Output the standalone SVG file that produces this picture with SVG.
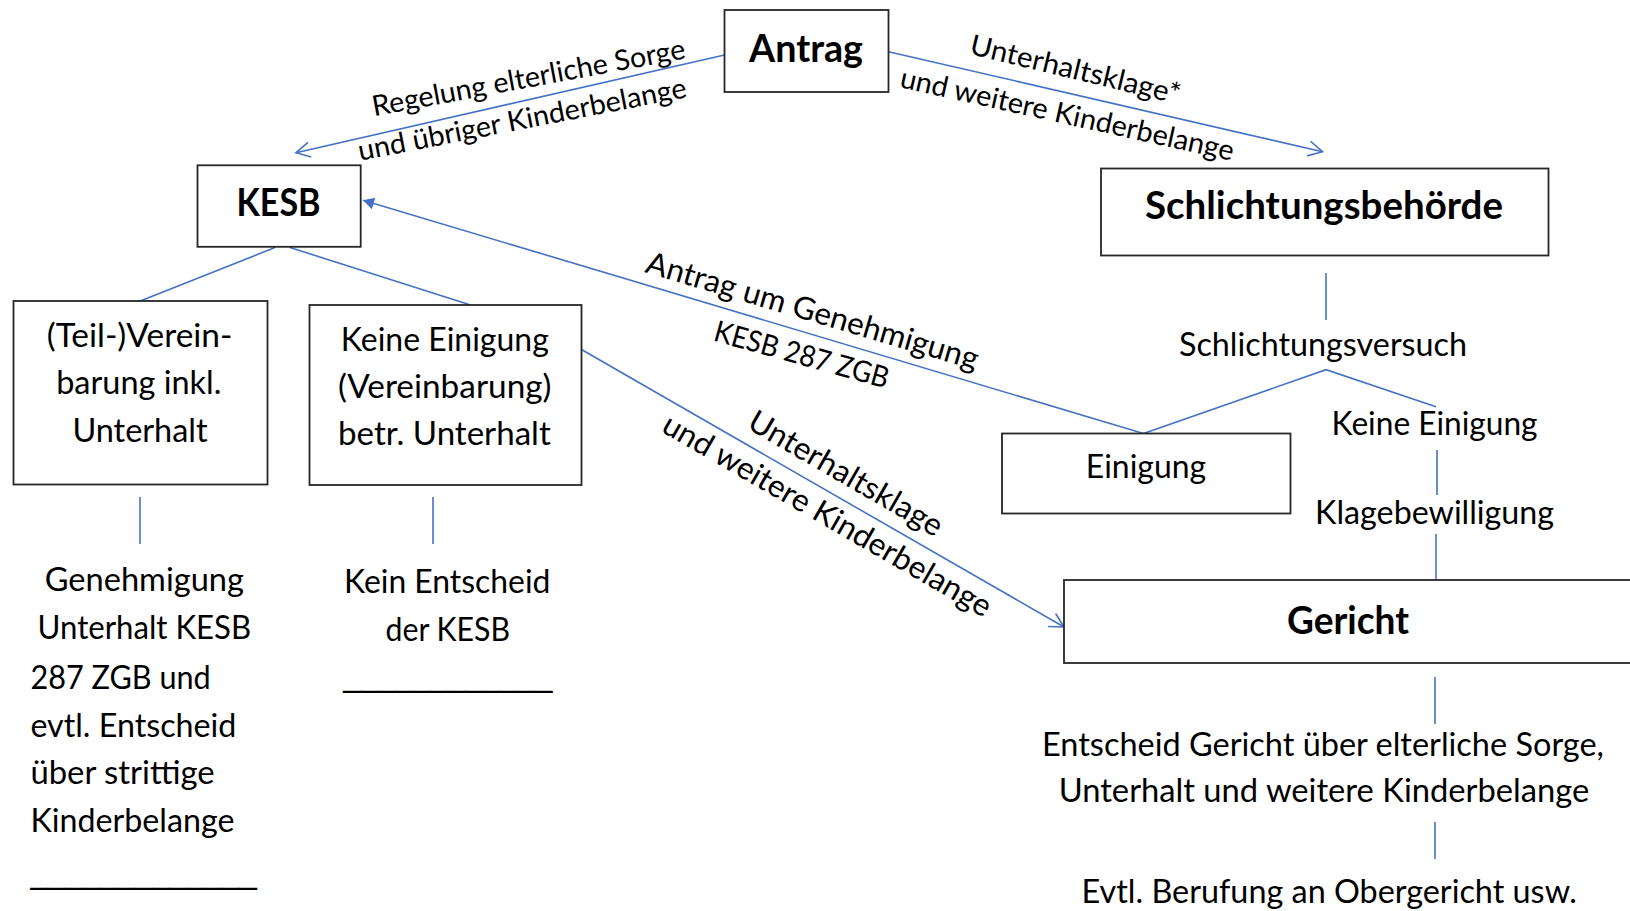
<svg xmlns="http://www.w3.org/2000/svg" width="1630" height="911" viewBox="0 0 1630 911">
<style>
.box{fill:#fff;stroke:#262626;stroke-width:1.8}
.t{font-family:Lato,"Liberation Sans",sans-serif;font-size:32px;fill:#000}
.b{font-family:Lato,"Liberation Sans",sans-serif;font-weight:bold;font-size:37.5px;fill:#000}
.u{font-family:"Liberation Sans",Arial,sans-serif;font-size:36px;fill:#000}
.lbl{font-size:28.5px}
.lbl2{font-size:31px}
.c{stroke:#4472C4;stroke-width:1.6;fill:none}
</style>
<defs>
<marker id="open" viewBox="-17 -10 19 20" refX="0" refY="0" markerWidth="19" markerHeight="20" markerUnits="userSpaceOnUse" orient="auto">
<path d="M-14,-7.5 L0,0 L-14,7.5" fill="none" stroke="#4472C4" stroke-width="1.6"/>
</marker>
<marker id="filled" viewBox="-13 -8 14 16" refX="0" refY="0" markerWidth="14" markerHeight="16" markerUnits="userSpaceOnUse" orient="auto">
<path d="M-11,-6 L0,0 L-11,6 Z" fill="#4472C4"/>
</marker>
</defs>
<rect x="0" y="0" width="1630" height="911" fill="#fff"/>

<g id="connectors">
<line class="c" x1="724.5" y1="55" x2="296" y2="152.7" marker-end="url(#open)"/>
<line class="c" x1="888.5" y1="51.7" x2="1322.5" y2="151.7" marker-end="url(#open)"/>
<line class="c" x1="1143.5" y1="433.5" x2="363" y2="200.3" marker-end="url(#filled)"/>
<line class="c" x1="275" y1="247.5" x2="139" y2="301.5"/>
<line class="c" x1="290" y1="247.5" x2="470.5" y2="305"/>
<line class="c" x1="581.5" y1="349.5" x2="1064" y2="627" marker-end="url(#open)"/>
<line class="c" x1="140" y1="497" x2="140" y2="544"/>
<line class="c" x1="433" y1="497" x2="433" y2="544"/>
<line class="c" x1="1326" y1="273" x2="1326" y2="320"/>
<polyline class="c" points="1143.5,433.5 1326,369.7 1436,406.7"/>
<line class="c" x1="1437" y1="450" x2="1437" y2="495"/>
<line class="c" x1="1436" y1="534" x2="1436" y2="580"/>
<line class="c" x1="1435" y1="677" x2="1435" y2="724"/>
<line class="c" x1="1435" y1="822" x2="1435" y2="859"/>
<g id="connector-labels">
<text class="t lbl" transform="translate(529,80) rotate(-10.5)" x="0" y="7.4" text-anchor="middle" textLength="318" lengthAdjust="spacingAndGlyphs">Regelung elterliche Sorge</text>
<text class="t lbl" transform="translate(522.5,121.7) rotate(-11)" x="0" y="7.4" text-anchor="middle" textLength="334" lengthAdjust="spacingAndGlyphs">und übriger Kinderbelange</text>
<text class="t lbl" transform="translate(1075,71.7) rotate(13.5)" x="0" y="7.4" text-anchor="middle" textLength="215.5" lengthAdjust="spacingAndGlyphs">Unterhaltsklage*</text>
<text class="t lbl" transform="translate(1066.7,116.7) rotate(12.5)" x="0" y="7.4" text-anchor="middle" textLength="341" lengthAdjust="spacingAndGlyphs">und weitere Kinderbelange</text>
<text class="t lbl2" transform="translate(811.7,313.3) rotate(16.5)" x="0" y="8" text-anchor="middle" textLength="345" lengthAdjust="spacingAndGlyphs">Antrag um Genehmigung</text>
<text class="t" style="font-size:29.5px" transform="translate(801.7,354.2) rotate(15.5)" x="0" y="10.6" text-anchor="middle" textLength="180" lengthAdjust="spacingAndGlyphs">KESB 287 ZGB</text>
<text class="t lbl2" transform="translate(844.5,475.6) rotate(30)" x="0" y="8" text-anchor="middle" textLength="219" lengthAdjust="spacingAndGlyphs">Unterhaltsklage</text>
<text class="t lbl2" transform="translate(826,517.5) rotate(30)" x="0" y="8" text-anchor="middle" textLength="374" lengthAdjust="spacingAndGlyphs">und weitere Kinderbelange</text>
</g>
</g>

<g id="antrag">
<rect class="box" x="724.5" y="10" width="164" height="82"/>
<text class="b" x="806" y="62" text-anchor="middle" textLength="114" lengthAdjust="spacingAndGlyphs">Antrag</text>
</g>
<g id="kesb">
<rect class="box" x="197.5" y="165.3" width="163.2" height="81.5"/>
<text class="b" x="278.5" y="216" text-anchor="middle" textLength="84" lengthAdjust="spacingAndGlyphs">KESB</text>
</g>
<g id="schlichtungsbehoerde">
<rect class="box" x="1101" y="168.5" width="447.5" height="87"/>
<text class="b" x="1324" y="218.5" text-anchor="middle" textLength="358" lengthAdjust="spacingAndGlyphs">Schlichtungsbehörde</text>
</g>
<g id="teilvereinbarung">
<rect class="box" x="13.5" y="301" width="254" height="183.5"/>
<text class="t" x="139.6" y="347" text-anchor="middle" textLength="185.8" lengthAdjust="spacingAndGlyphs">(Teil-)Verein-</text>
<text class="t" x="138.8" y="394" text-anchor="middle" textLength="165.3" lengthAdjust="spacingAndGlyphs">barung inkl.</text>
<text class="t" x="140" y="442" text-anchor="middle" textLength="135.2" lengthAdjust="spacingAndGlyphs">Unterhalt</text>
</g>
<g id="keine-einigung-kesb">
<rect class="box" x="309.5" y="305" width="272" height="180"/>
<text class="t" x="444.8" y="351" text-anchor="middle" textLength="208" lengthAdjust="spacingAndGlyphs">Keine Einigung</text>
<text class="t" x="444.8" y="398" text-anchor="middle" textLength="213.5" lengthAdjust="spacingAndGlyphs">(Vereinbarung)</text>
<text class="t" x="444.4" y="445" text-anchor="middle" textLength="212.7" lengthAdjust="spacingAndGlyphs">betr. Unterhalt</text>
</g>
<g id="genehmigung">
<text class="t" x="44.7" y="591" textLength="199.3" lengthAdjust="spacingAndGlyphs">Genehmigung</text>
<text class="t" x="37.6" y="638.5" textLength="213.5" lengthAdjust="spacingAndGlyphs">Unterhalt KESB</text>
<text class="t" x="30.4" y="688.5" textLength="180.3" lengthAdjust="spacingAndGlyphs">287 ZGB und</text>
<text class="t" x="30.4" y="736.5" textLength="206" lengthAdjust="spacingAndGlyphs">evtl. Entscheid</text>
<text class="t" x="30.4" y="783.5" textLength="184.3" lengthAdjust="spacingAndGlyphs">über strittige</text>
<text class="t" x="30.4" y="831.5" textLength="204" lengthAdjust="spacingAndGlyphs">Kinderbelange</text>
<text class="u" x="30.4" y="882.5" textLength="226.6" lengthAdjust="spacingAndGlyphs">_____________</text>
</g>
<g id="kein-entscheid">
<text class="t" x="447.2" y="593" text-anchor="middle" textLength="206.4" lengthAdjust="spacingAndGlyphs">Kein Entscheid</text>
<text class="t" x="447.8" y="641" text-anchor="middle" textLength="124.5" lengthAdjust="spacingAndGlyphs">der KESB</text>
<text class="u" x="343.2" y="685.5" textLength="209.2" lengthAdjust="spacingAndGlyphs">____________</text>
</g>
<g id="schlichtungsversuch">
<text class="t" x="1323" y="356" text-anchor="middle" textLength="288" lengthAdjust="spacingAndGlyphs">Schlichtungsversuch</text>
</g>
<g id="einigung">
<rect class="box" x="1002" y="433.5" width="288.5" height="80"/>
<text class="t" x="1146" y="477.5" text-anchor="middle" textLength="120.3" lengthAdjust="spacingAndGlyphs">Einigung</text>
</g>
<g id="keine-einigung">
<text class="t" x="1434.6" y="434.8" text-anchor="middle" textLength="206" lengthAdjust="spacingAndGlyphs">Keine Einigung</text>
</g>
<g id="klagebewilligung">
<text class="t" x="1434.6" y="524" text-anchor="middle" textLength="239" lengthAdjust="spacingAndGlyphs">Klagebewilligung</text>
</g>
<g id="gericht">
<rect class="box" x="1064" y="580" width="580" height="83"/>
<text class="b" x="1348" y="634" text-anchor="middle" textLength="122" lengthAdjust="spacingAndGlyphs">Gericht</text>
</g>
<g id="entscheid-gericht">
<text class="t" x="1323" y="756" text-anchor="middle" textLength="562" lengthAdjust="spacingAndGlyphs">Entscheid Gericht über elterliche Sorge,</text>
<text class="t" x="1324" y="801.7" text-anchor="middle" textLength="530.7" lengthAdjust="spacingAndGlyphs">Unterhalt und weitere Kinderbelange</text>
</g>
<g id="berufung">
<text class="t" x="1329.3" y="903.3" text-anchor="middle" textLength="495.4" lengthAdjust="spacingAndGlyphs">Evtl. Berufung an Obergericht usw.</text>
</g>
</svg>
